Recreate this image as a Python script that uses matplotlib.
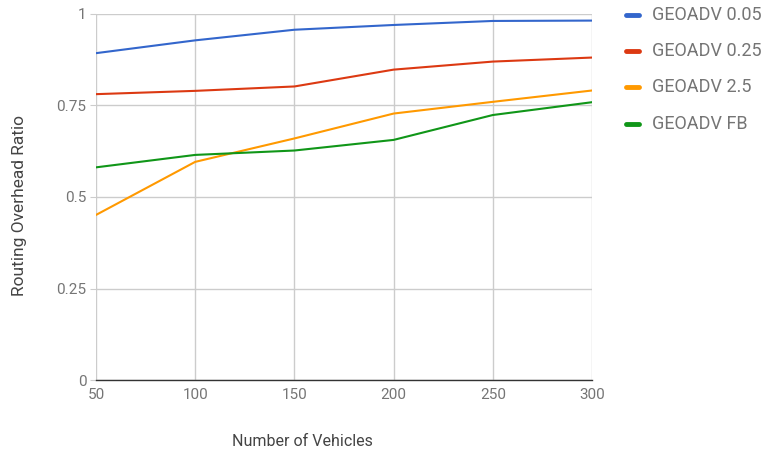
import matplotlib
matplotlib.use("Agg")
import matplotlib.pyplot as plt
from matplotlib.lines import Line2D

vehicles = [50, 100, 150, 200, 250, 300]
geoadv_005 = [0.893, 0.928, 0.957, 0.970, 0.981, 0.982]
geoadv_025 = [0.781, 0.790, 0.802, 0.848, 0.870, 0.881]
geoadv_25 = [0.451, 0.596, 0.660, 0.728, 0.760, 0.791]
geoadv_fb = [0.581, 0.615, 0.627, 0.656, 0.724, 0.759]

series_labels = ["GEOADV 0.05", "GEOADV 0.25", "GEOADV 2.5", "GEOADV FB"]
series_colors = ["#3366CC", "#DC3912", "#FF9900", "#109618"]
y_ticks = [0, 0.25, 0.5, 0.75, 1]
y_tick_labels = ["0", "0.25", "0.5", "0.75", "1"]

plt.rcParams["font.family"] = ["Roboto", "DejaVu Sans"]
text_color = "#757575"

W, H = 770, 454
fig = plt.figure(figsize=(W / 100, H / 100), dpi=100)
ax = fig.add_axes([96 / W, 1 - 380 / H, (592 - 96) / W, (380 - 14) / H])

for vals, lab, col in zip([geoadv_005, geoadv_025, geoadv_25, geoadv_fb],
                          series_labels, series_colors):
    ax.plot(vehicles, vals, color=col, lw=1.5, label=lab,
            solid_capstyle="round", zorder=3)

ax.set_xlim(50, 300)
ax.set_ylim(0, 1)
ax.set_xticks(vehicles)
ax.set_yticks(y_ticks)
ax.set_yticklabels(y_tick_labels)
ax.grid(True, color="#cccccc", lw=1)
ax.set_axisbelow(True)

for side in ["top", "right", "left"]:
    ax.spines[side].set_visible(False)
ax.spines["bottom"].set_color("#333333")
ax.spines["bottom"].set_linewidth(1)

ax.tick_params(axis="y", length=4, color="#cccccc", labelsize=11,
               labelcolor=text_color, pad=3)
ax.tick_params(axis="x", length=0, labelsize=11, labelcolor=text_color, pad=6)

# axis titles
fig.text(302 / W, 1 - 442 / H, "Number of Vehicles", fontsize=11.5,
         color="#444444", ha="center", va="center")
fig.text(20 / W, 1 - 206 / H, "Routing Overhead Ratio", fontsize=12.5,
         color="#444444", ha="center", va="center", rotation=90)

# legend entries
legend_y = [15, 51, 87, 124]
for lab, col, yy in zip(series_labels, series_colors, legend_y):
    fig.add_artist(Line2D([626 / W, 639 / W], [1 - yy / H, 1 - yy / H],
                          transform=fig.transFigure, color=col, lw=3.5,
                          solid_capstyle="round"))
    fig.text(652 / W, 1 - yy / H, lab, fontsize=13, color=text_color,
             ha="left", va="center")

fig.savefig("out.png", dpi=100)
